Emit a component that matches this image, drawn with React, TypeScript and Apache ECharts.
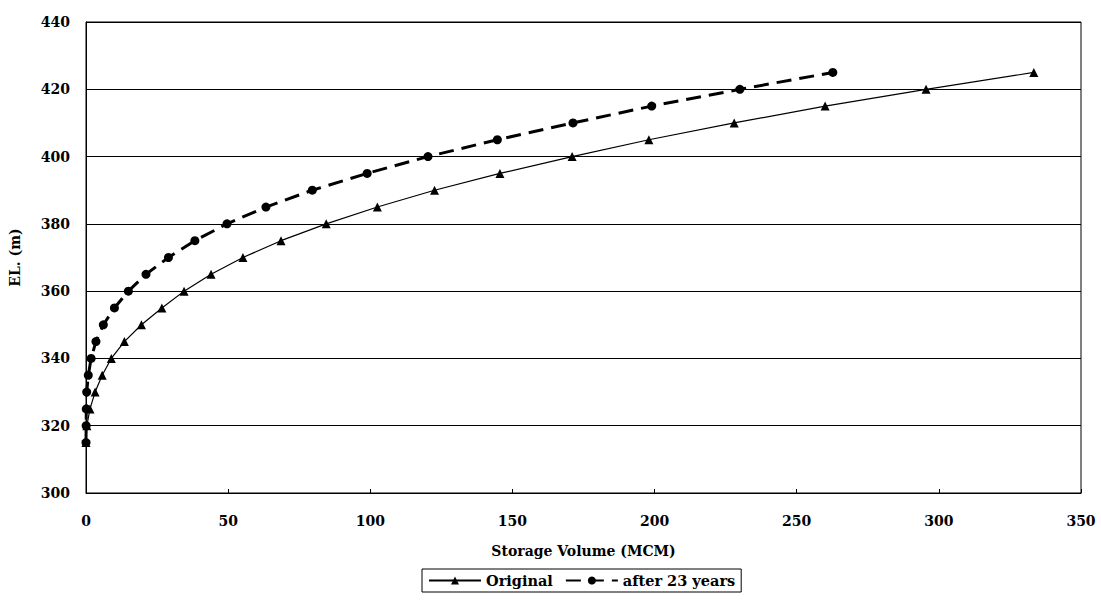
import React, { useEffect, useRef } from "react";
import * as echarts from "echarts";

const elevations = [315, 320, 325, 330, 335, 340, 345, 350, 355, 360, 365, 370, 375, 380, 385, 390, 395, 400, 405, 410, 415, 420, 425];
const originalVolume = [0, 0.3, 1.4, 3.2, 5.7, 8.9, 13.5, 19.5, 26.7, 34.5, 44.0, 55.2, 68.6, 84.5, 102.5, 122.6, 145.6, 171, 198, 228, 260, 295.5, 333.4];
const after23Volume = [0, 0.05, 0.1, 0.25, 0.8, 1.8, 3.5, 6.1, 10.0, 14.9, 21.1, 29.0, 38.3, 49.6, 63.3, 79.6, 98.9, 120.3, 144.7, 171.3, 199, 230, 262.7];

const FONT = "DejaVu Serif";

export default function App() {
  const ref = useRef<HTMLDivElement>(null);
  useEffect(() => {
    const chart = echarts.init(ref.current!, undefined, { renderer: "svg" });
    const textStyle = { fontFamily: FONT, fontWeight: "bold" as const, fontSize: 14, color: "#000" };
    chart.setOption({
      animation: false,
      backgroundColor: "#fff",
      grid: {
        left: 86, right: 20, top: 22, bottom: 115,
        show: true, borderColor: "#000", borderWidth: 1,
        outerBoundsMode: "none", containLabel: false,
      },
      xAxis: {
        type: "value",
        min: 0,
        max: 350,
        interval: 50,
        name: "Storage Volume (MCM)",
        nameLocation: "middle",
        nameGap: 51,
        nameTextStyle: textStyle,
        axisLine: { lineStyle: { color: "#000", width: 1 } },
        axisTick: { show: true, inside: true, length: 4, lineStyle: { color: "#000" } },
        axisLabel: { ...textStyle, margin: 21 },
        splitLine: { show: false },
      },
      yAxis: {
        type: "value",
        min: 300,
        max: 440,
        interval: 20,
        name: "EL. (m)",
        nameLocation: "middle",
        nameGap: 64,
        nameTextStyle: textStyle,
        axisLine: { show: true, lineStyle: { color: "#000", width: 1 } },
        axisTick: { show: true, inside: true, length: 4, lineStyle: { color: "#000" } },
        axisLabel: { ...textStyle, margin: 16 },
        splitLine: { show: true, lineStyle: { color: "#000", width: 1 } },
      },
      legend: {
        bottom: 16,
        left: 422,
        itemGap: 12,
        itemWidth: 52,
        itemHeight: 10,
        padding: [4, 6],
        borderColor: "#000",
        borderWidth: 1,
        borderRadius: 0,
        textStyle: { ...textStyle, fontSize: 14.5 },
        data: ["Original", "after 23 years"],
      },
      series: [
        {
          name: "Original",
          type: "line",
          data: originalVolume.map((v, i) => [v, elevations[i]]),
          symbol: "triangle",
          symbolSize: 9,
          lineStyle: { color: "#000", width: 1.2 },
          itemStyle: { color: "#000" },
        },
        {
          name: "after 23 years",
          type: "line",
          data: after23Volume.map((v, i) => [v, elevations[i]]),
          symbol: "circle",
          symbolSize: 9,
          lineStyle: { color: "#000", width: 3, type: [15, 8] },
          itemStyle: { color: "#000" },
        },
      ],
    });
    return () => chart.dispose();
  }, []);
  return <div ref={ref} style={{ width: 1101, height: 608, position: "absolute", left: 0, top: 0 }} />;
}
